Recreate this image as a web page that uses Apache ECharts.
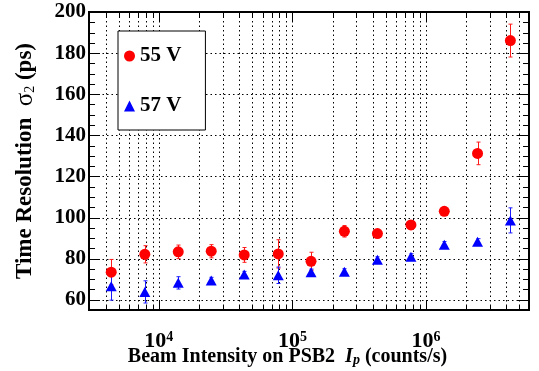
<!DOCTYPE html>
<html><head><meta charset="utf-8">
<script src="https://cdn.jsdelivr.net/npm/echarts@6/dist/echarts.min.js"></script>
<style>html,body{margin:0;padding:0;background:#fff}#c{width:539px;height:371px}</style>
</head><body><div id="c"></div>
<script>
// ---- data ----
const intensity = [4400, 7850, 13970, 24660, 43550, 78300, 137800, 244800, 432600, 770900, 1370000, 2430000, 4280000];
const res55 = [73.4, 82.1, 83.3, 83.6, 81.8, 82.3, 78.7, 93.3, 92.2, 96.4, 103.0, 131.2, 186.1];
const err55 = [6.2, 4.2, 3.3, 3.2, 3.6, 6.9, 4.4, 2.8, 1.5, 1.5, 1.5, 5.5, 8.0];
const res57 = [66.6, 63.8, 68.2, 69.4, 72.3, 71.9, 73.4, 73.6, 79.4, 80.9, 86.8, 88.2, 98.6];
const err57 = [6.8, 5.4, 3.0, 1.5, 1.5, 4.0, 1.5, 1.5, 1.5, 1.5, 1.5, 1.5, 6.1];
const seriesNames = ['55 V', '57 V'];
const xMajorTicks = [1e4, 1e5, 1e6];
const xMinorTicks = [4000, 5000, 6000, 7000, 8000, 9000,
  2e4, 3e4, 4e4, 5e4, 6e4, 7e4, 8e4, 9e4,
  2e5, 3e5, 4e5, 5e5, 6e5, 7e5, 8e5, 9e5,
  2e6, 3e6, 4e6, 5e6];
const yMajorTicks = [60, 80, 100, 120, 140, 160, 180, 200];
const yMinorTicks = [55, 65, 70, 75, 85, 90, 95, 105, 110, 115, 125, 130, 135, 145, 150, 155, 165, 170, 175, 185, 190, 195];
const X_MIN = 3000, X_MAX = 5.9e6, Y_MIN = 55, Y_MAX = 200;

const FONT = '"Liberation Serif", "Times New Roman", serif';

function errData(xs, ys, es) { return xs.map((x, i) => [x, ys[i] - es[i], ys[i] + es[i]]); }

function renderErr(params, api) {
  const x = api.value(0);
  const lo = api.coord([x, api.value(1)]);
  const hi = api.coord([x, api.value(2)]);
  const px = Math.round(lo[0]) + 0.5;
  const cap = 2;
  const style = { stroke: api.visual('color'), lineWidth: 1 };
  return { type: 'group', children: [
    { type: 'line', shape: { x1: px, y1: lo[1], x2: px, y2: hi[1] }, style },
    { type: 'line', shape: { x1: px - cap, y1: lo[1], x2: px + cap, y2: lo[1] }, style },
    { type: 'line', shape: { x1: px - cap, y1: hi[1], x2: px + cap, y2: hi[1] }, style }
  ] };
}

function xTickRenderer(len) {
  return function (params, api) {
    const cs = params.coordSys;
    const px = Math.round(api.coord([api.value(0), api.value(1)])[0]) + 0.5;
    const top = cs.y, bot = cs.y + cs.height;
    const solid = { stroke: '#000', lineWidth: 1 };
    return { type: 'group', children: [
      { type: 'line', shape: { x1: px, y1: top, x2: px, y2: bot }, style: { stroke: '#000', lineWidth: 1, lineDash: [1.5, 3] } },
      { type: 'line', shape: { x1: px, y1: bot, x2: px, y2: bot - len }, style: solid },
      { type: 'line', shape: { x1: px, y1: top, x2: px, y2: top + len }, style: solid }
    ] };
  };
}
function yTickRenderer(len, grid) {
  return function (params, api) {
    const cs = params.coordSys;
    const v = api.value(1);
    const py = Math.round(api.coord([api.value(0), v])[1]) + 0.5;
    const left = cs.x, right = cs.x + cs.width;
    const solid = { stroke: '#000', lineWidth: 1 };
    const ch = [
      { type: 'line', shape: { x1: left, y1: py, x2: left + len, y2: py }, style: solid },
      { type: 'line', shape: { x1: right, y1: py, x2: right - len, y2: py }, style: solid }
    ];
    if (grid && v < Y_MAX) ch.unshift({ type: 'line', shape: { x1: left, y1: py, x2: right, y2: py }, style: { stroke: '#000', lineWidth: 1, lineDash: [1.5, 3] } });
    return { type: 'group', children: ch };
  };
}

const chart = echarts.init(document.getElementById('c'));
chart.setOption({
  animation: false,
  backgroundColor: '#fff',
  grid: { left: 89, right: 10, top: 12, bottom: 61, show: true, borderColor: '#000', borderWidth: 2, backgroundColor: 'transparent', containLabel: false, outerBoundsMode: 'none' },
  legend: {
    data: [{ name: seriesNames[0], icon: 'circle' }, { name: seriesNames[1], icon: 'triangle' }],
    orient: 'vertical', left: 118, top: 31,
    backgroundColor: '#fff', borderColor: '#000', borderWidth: 1,
    padding: [14, 24, 13, 6], itemGap: 28, itemWidth: 11, itemHeight: 11,
    textStyle: { fontFamily: FONT, fontWeight: 'bold', fontSize: 21, color: '#000', lineHeight: 22 },
    z: 10, selectedMode: false
  },
  xAxis: {
    type: 'log', logBase: 10, min: X_MIN, max: X_MAX,
    axisLine: { show: false }, axisTick: { show: false }, splitLine: { show: false }, minorTick: { show: false }, minorSplitLine: { show: false },
    axisLabel: {
      showMinLabel: false, showMaxLabel: false, margin: 20,
      formatter: function (v) {
        const e = Math.round(Math.log10(v));
        if (Math.abs(Math.log10(v) - e) < 1e-6) return '{b|10}{s|' + e + '}';
        return '';
      },
      rich: {
        b: { fontFamily: FONT, fontWeight: 'bold', fontSize: 22, color: '#000', lineHeight: 22 },
        s: { fontFamily: FONT, fontWeight: 'bold', fontSize: 14, color: '#000', verticalAlign: 'top', lineHeight: 12 }
      }
    },
    name: '{b|Beam Intensity on PSB2  }{i|I}{p|p}{b| (counts/s)}',
    nameLocation: 'middle', nameGap: 37, nameMoveOverlap: false,
    nameTextStyle: {
      padding: [0, 43, 0, 0],
      rich: {
        b: { fontFamily: FONT, fontWeight: 'bold', fontSize: 20, color: '#000', lineHeight: 20 },
        i: { fontFamily: FONT, fontWeight: 'bold', fontStyle: 'italic', fontSize: 20, color: '#000', lineHeight: 20 },
        p: { fontFamily: FONT, fontWeight: 'bold', fontStyle: 'italic', fontSize: 14, color: '#000', lineHeight: 8, verticalAlign: 'bottom' }
      }
    }
  },
  yAxis: {
    type: 'value', min: Y_MIN, max: Y_MAX, interval: 5,
    axisLine: { show: false }, axisTick: { show: false }, splitLine: { show: false },
    axisLabel: {
      margin: 3, fontFamily: FONT, fontWeight: 'bold', fontSize: 21, color: '#000',
      formatter: function (v) { return yMajorTicks.indexOf(v) >= 0 ? String(v) : ''; }
    },
    name: '{b|Time Resolution  }{g|σ}{s|2}{b| (ps)}',
    nameLocation: 'middle', nameGap: 52, nameMoveOverlap: false,
    nameTextStyle: {
      rich: {
        b: { fontFamily: FONT, fontWeight: 'bold', fontSize: 23, color: '#000', lineHeight: 23 },
        g: { fontFamily: FONT, fontSize: 25, color: '#000', lineHeight: 23 },
        s: { fontFamily: FONT, fontSize: 14, color: '#000', lineHeight: 8, verticalAlign: 'bottom' }
      }
    }
  },
  series: [
    { type: 'custom', name: 'xmaj', silent: true, clip: false, z: 1, renderItem: xTickRenderer(10), data: xMajorTicks.map(v => [v, Y_MIN]), encode: { x: 0, y: 1 } },
    { type: 'custom', name: 'xmin', silent: true, clip: false, z: 1, renderItem: xTickRenderer(5), data: xMinorTicks.map(v => [v, Y_MIN]), encode: { x: 0, y: 1 } },
    { type: 'custom', name: 'ymaj', silent: true, clip: false, z: 1, renderItem: yTickRenderer(11, true), data: yMajorTicks.map(v => [X_MIN, v]), encode: { x: 0, y: 1 } },
    { type: 'custom', name: 'ymin', silent: true, clip: false, z: 1, renderItem: yTickRenderer(6, false), data: yMinorTicks.map(v => [X_MIN, v]), encode: { x: 0, y: 1 } },
    { type: 'custom', name: 'e55', silent: true, z: 3, itemStyle: { color: '#ff1a1a' }, renderItem: renderErr, data: errData(intensity, res55, err55), encode: { x: 0, y: [1, 2] } },
    { type: 'custom', name: 'e57', silent: true, z: 3, itemStyle: { color: '#1a1aff' }, renderItem: renderErr, data: errData(intensity, res57, err57), encode: { x: 0, y: [1, 2] } },
    { type: 'scatter', name: seriesNames[0], symbol: 'circle', symbolSize: 11, z: 4, itemStyle: { color: '#ff0000', opacity: 1 }, data: intensity.map((x, i) => [x, res55[i]]) },
    { type: 'scatter', name: seriesNames[1], symbol: 'triangle', symbolSize: [11, 10], z: 4, itemStyle: { color: '#0000ff', opacity: 1 }, data: intensity.map((x, i) => [x, res57[i]]) }
  ]
});
</script>
</body></html>
